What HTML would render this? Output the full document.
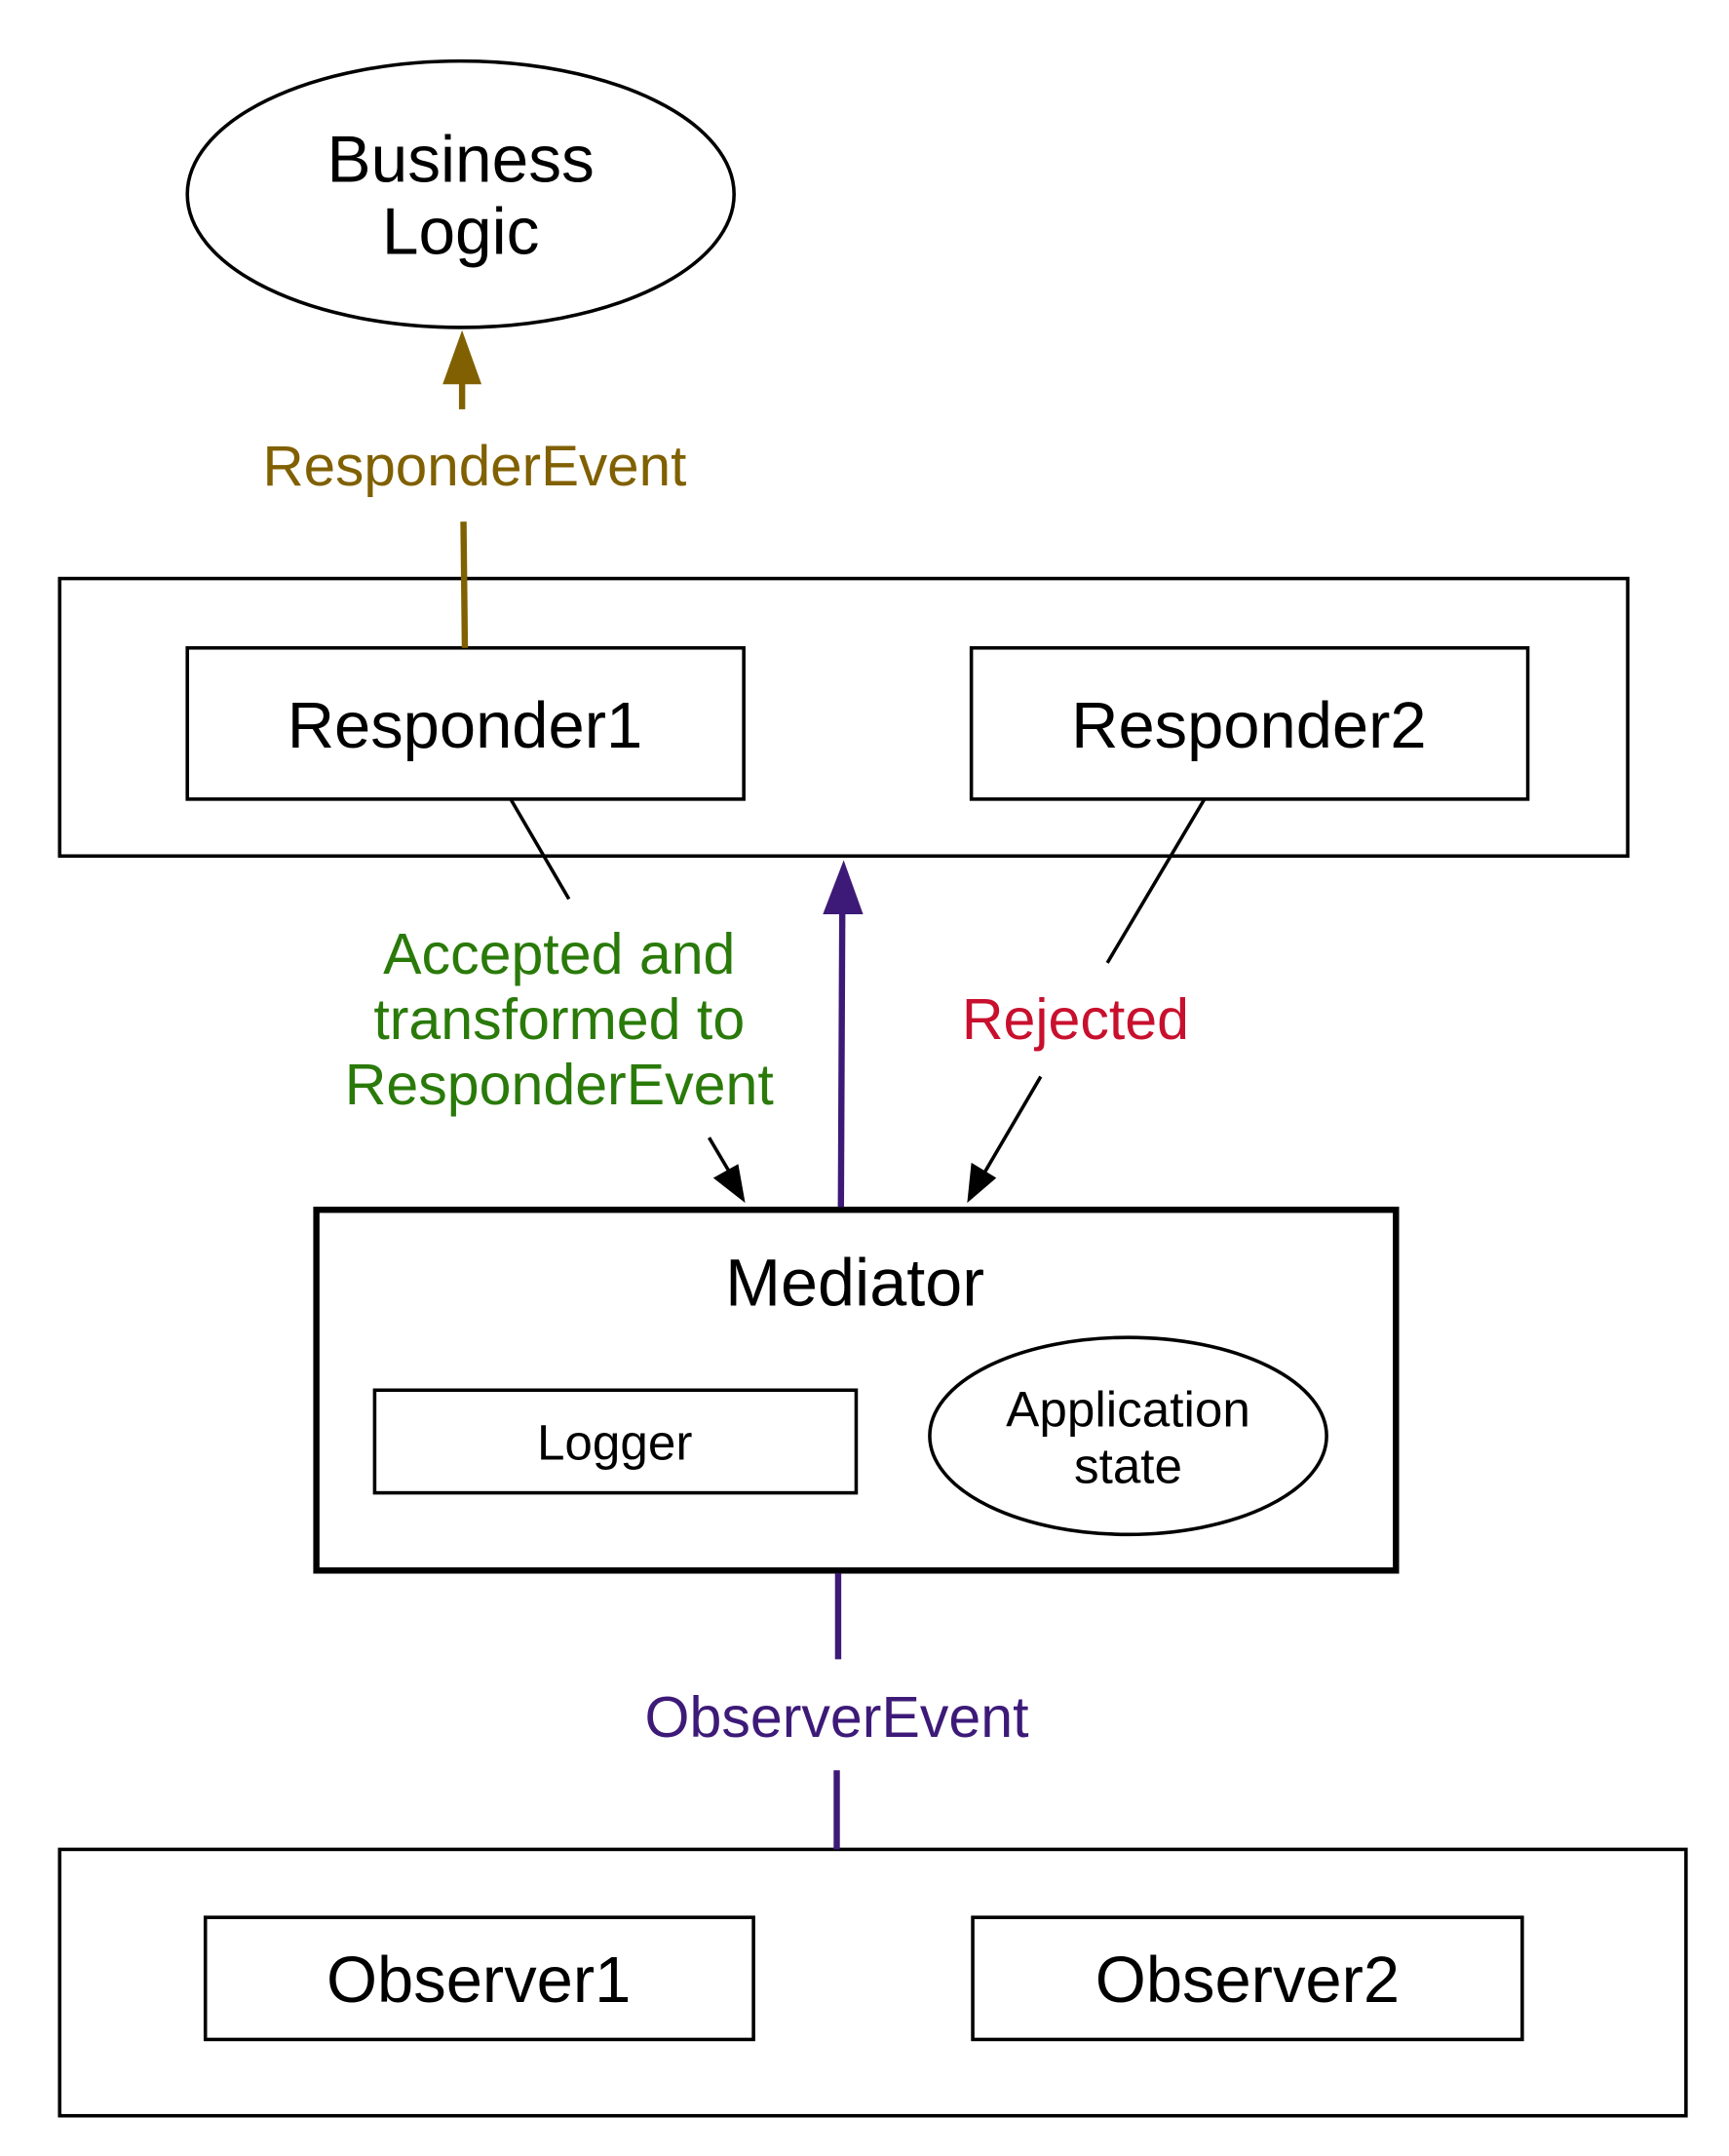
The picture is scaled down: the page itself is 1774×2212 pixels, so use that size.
<!DOCTYPE html>
<html><head><meta charset="utf-8"><style>
html,body{margin:0;padding:0;background:#fff;}
svg{display:block;}
text{font-family:"Liberation Sans",Arial,sans-serif;}
</style></head><body>
<svg width="1774" height="2212" viewBox="0 0 1246 1554" preserveAspectRatio="none" xmlns="http://www.w3.org/2000/svg">
<rect width="1246" height="1554" fill="#fff"/>
<g fill="none" stroke="#000" stroke-width="2.5">
<ellipse cx="332" cy="140" rx="197" ry="96"/>
<rect x="43" y="417" width="1130" height="200"/>
<rect x="135" y="467" width="401" height="109"/>
<rect x="700" y="467" width="401" height="109"/>
<rect x="228" y="872" width="778" height="260" stroke-width="4.5"/>
<rect x="270" y="1002" width="347" height="74"/>
<ellipse cx="813" cy="1035" rx="143" ry="71"/>
<rect x="43" y="1333" width="1172" height="192"/>
<rect x="148" y="1382" width="395" height="88"/>
<rect x="701" y="1382" width="396" height="88"/>
<line x1="368" y1="576" x2="410" y2="648"/>
<line x1="511" y1="820" x2="527" y2="847"/>
<line x1="868" y1="576" x2="798" y2="694"/>
<line x1="750" y1="776" x2="709" y2="846"/>
</g>
<polygon points="537,867 514,849 532,839" fill="#000"/>
<polygon points="697,867 700,838 718,849" fill="#000"/>
<g stroke="#806000" stroke-width="4.5" fill="none">
<line x1="335" y1="467" x2="334" y2="376"/>
<line x1="333" y1="295" x2="333" y2="274"/>
</g>
<polygon points="333,238 319,277 347,277" fill="#806000"/>
<g stroke="#3d1a78" stroke-width="4.5" fill="none">
<line x1="606" y1="870" x2="607" y2="655"/>
<line x1="604" y1="1134" x2="604" y2="1196"/>
<line x1="603" y1="1276" x2="603" y2="1333"/>
</g>
<polygon points="608,620 593,659 622,659" fill="#3d1a78"/>
<g text-anchor="middle">
<text x="332" y="131" font-size="47.5">Business</text>
<text x="332" y="183" font-size="47.5">Logic</text>
<text x="342" y="350" font-size="41" fill="#806000">ResponderEvent</text>
<text x="335" y="539" font-size="47">Responder1</text>
<text x="900" y="539" font-size="47">Responder2</text>
<text x="403" y="702" font-size="41.5" fill="#2a7a0a">Accepted and</text>
<text x="403" y="749" font-size="41.5" fill="#2a7a0a">transformed to</text>
<text x="403" y="796" font-size="41.5" fill="#2a7a0a">ResponderEvent</text>
<text x="775" y="749" font-size="41.5" fill="#c8102e">Rejected</text>
<text x="616" y="941" font-size="48">Mediator</text>
<text x="443" y="1052" font-size="36">Logger</text>
<text x="813" y="1028" font-size="36">Application</text>
<text x="813" y="1069" font-size="36">state</text>
<text x="603" y="1252" font-size="41.5" fill="#3d1a78">ObserverEvent</text>
<text x="345" y="1443" font-size="47">Observer1</text>
<text x="899" y="1443" font-size="47">Observer2</text>
</g>
</svg>
</body></html>
